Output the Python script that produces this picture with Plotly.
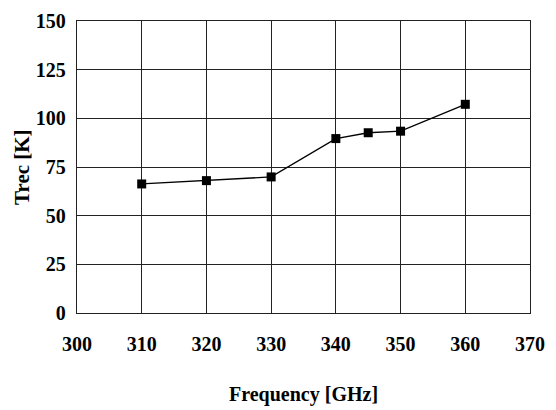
import plotly.graph_objects as go

freq = [310, 320, 330, 340, 345, 350, 360]
trec = [66.3, 68.0, 69.9, 89.6, 92.6, 93.4, 107.2]
x_ticks = [300, 310, 320, 330, 340, 350, 360, 370]
y_ticks = [0, 25, 50, 75, 100, 125, 150]

FONT = "Liberation Serif"

fig = go.Figure()
fig.add_trace(go.Scatter(
    x=freq, y=trec, mode="lines+markers",
    line=dict(color="black", width=1.3),
    marker=dict(symbol="square", size=9, color="black"),
    showlegend=False,
))

axis_common = dict(
    showgrid=True, gridcolor="#222222", gridwidth=1.4,
    showline=True, linecolor="#222222", linewidth=1.4, mirror=True,
    zeroline=False, ticks="", ticklabeloverflow="allow",
    tickfont=dict(family=FONT, size=20, color="black"),
)

fig.update_xaxes(range=[300, 370], tickvals=x_ticks,
                 ticktext=["<b>%d</b>" % v for v in x_ticks],
                 ticklabelstandoff=13, **axis_common)
fig.update_yaxes(range=[0, 150], tickvals=y_ticks,
                 ticktext=["<b>%d</b>" % v for v in y_ticks],
                 ticklabelstandoff=6, **axis_common)

fig.add_annotation(text="<b>Frequency [GHz]</b>", xref="paper", yref="paper", x=0.5, y=0,
                   yshift=-81, showarrow=False, yanchor="middle",
                   font=dict(family=FONT, size=20, color="black"))
fig.add_annotation(text="<b>Trec [K]</b>", xref="paper", yref="paper", x=0, y=0.5,
                   xshift=-55, showarrow=False, textangle=-90, xanchor="center",
                   font=dict(family=FONT, size=21, color="black"))

fig.update_layout(
    width=556, height=410,
    margin=dict(l=77, r=26, t=10, b=97),
    plot_bgcolor="white", paper_bgcolor="white",
    font=dict(family=FONT, color="black"),
)

fig.write_html("out.html")
